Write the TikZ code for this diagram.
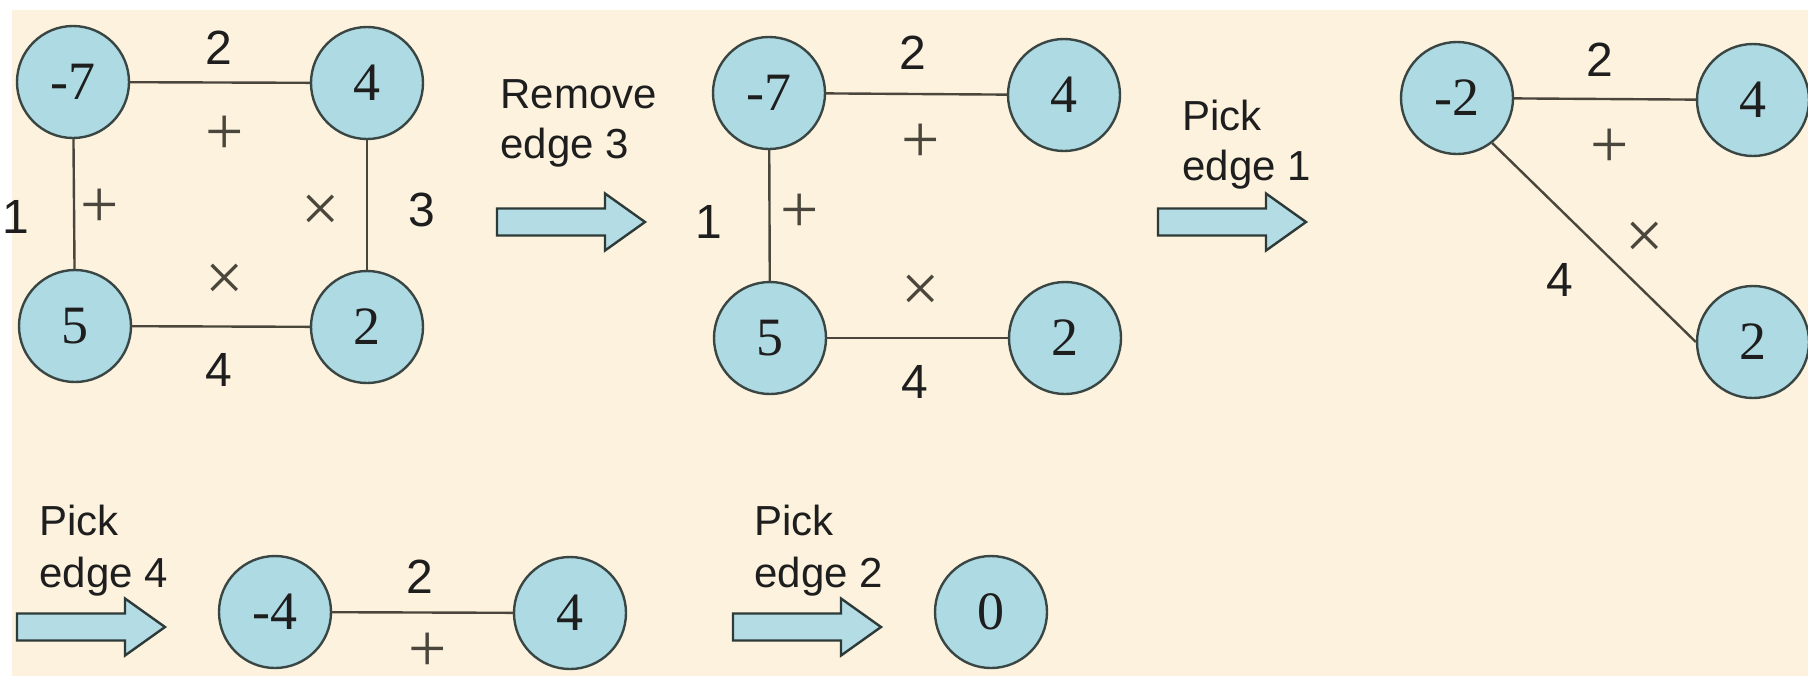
\documentclass[tikz,border=0pt]{standalone}
\usepackage{fontspec}
\setmainfont{Liberation Serif}
\newfontfamily\labfont{Liberation Sans}
\definecolor{bgcream}{HTML}{FCF2DE}
\definecolor{nodefill}{HTML}{AEDBE3}
\definecolor{nodeline}{HTML}{3A4644}
\definecolor{edgecol}{HTML}{4A463C}
\definecolor{txt}{HTML}{1E1E1E}
\definecolor{sgncol}{HTML}{4A463C}
\definecolor{arrowfill}{HTML}{B4DCE5}
\definecolor{arrowline}{HTML}{2E3A38}
\begin{document}
\begin{tikzpicture}[x=0.5pt,y=-0.5pt,
  vert/.style={circle, draw=nodeline, line width=1.2pt, fill=nodefill,
    minimum size=56pt, inner sep=0pt, text=txt, font=\fontsize{27}{30}\selectfont},
  elab/.style={inner sep=0pt, text=txt, font=\labfont\fontsize{24}{28}\selectfont},
  sgn/.style={inner sep=0pt, text=sgncol, font=\fontsize{34}{36}\selectfont},
  atext/.style={anchor=base west, inner sep=0pt, text=txt, font=\labfont\fontsize{21}{25}\selectfont},
  edge/.style={draw=edgecol, line width=1.2pt},
  barrow/.pic={\draw[fill=arrowfill, draw=arrowline, line width=1.2pt, line join=miter]
    (0,-13.5) -- (108,-13.5) -- (108,-28.5) -- (148,0) -- (108,28.5) -- (108,13.5) -- (0,13.5) -- cycle;}
]
% background
\useasboundingbox (0,0) rectangle (1808,682);
\fill[white] (0,0) rectangle (1808,682);
\fill[bgcream] (12,10) rectangle (1808,676);

% ---------- Graph 1 ----------
\node[vert] (a1) at (73,82) {-7};
\node[vert] (b1) at (367,83) {4};
\node[vert] (c1) at (75,326) {5};
\node[vert] (d1) at (367,327) {2};
\draw[edge] (a1) -- (b1);
\draw[edge] (a1) -- (c1);
\draw[edge] (b1) -- (d1);
\draw[edge] (c1) -- (d1);
\node[elab] (l12) at (219,48) {2};
\node[sgn]  (s12) at (225,135) {+};
\node[elab] (l11) at (16,217) {1};
\node[sgn]  (s11) at (100,208) {+};
\node[sgn]  (s13) at (321,213) {×};
\node[elab] (l13) at (422,210) {3};
\node[sgn]  (s14) at (225,282) {×};
\node[elab] (l14) at (219,370) {4};

% arrow 1
\pic at (497,222) {barrow};
\node[atext] (t1a) at (500,108) {Remove};
\node[atext] (t1b) at (500,158) {edge 3};

% ---------- Graph 2 ----------
\node[vert] (a2) at (769,93) {-7};
\node[vert] (b2) at (1064,95) {4};
\node[vert] (c2) at (770,338) {5};
\node[vert] (d2) at (1065,338) {2};
\draw[edge] (a2) -- (b2);
\draw[edge] (a2) -- (c2);
\draw[edge] (c2) -- (d2);
\node[elab] (l22) at (913,53) {2};
\node[sgn]  (s22) at (921,143) {+};
\node[elab] (l21) at (709,222) {1};
\node[sgn]  (s21) at (800,213) {+};
\node[sgn]  (s24) at (921,293) {×};
\node[elab] (l24) at (915,382) {4};

% arrow 2
\pic at (1158,222) {barrow};
\node[atext] (t2a) at (1182,130) {Pick};
\node[atext] (t2b) at (1182,180) {edge 1};

% ---------- Graph 3 ----------
\node[vert] (a3) at (1457,98) {-2};
\node[vert] (b3) at (1753,100) {4};
\node[vert] (c3) at (1753,342) {2};
\draw[edge] (a3) -- (b3);
\draw[edge] (a3.-52) -- (c3.west);
\node[elab] (l32) at (1600,60) {2};
\node[sgn]  (s32) at (1610,148) {+};
\node[sgn]  (s34) at (1645,240) {×};
\node[elab] (l34) at (1560,280) {4};

% ---------- Row 2 ----------
\pic at (17,627) {barrow};
\node[atext] (t3a) at (39,535) {Pick};
\node[atext] (t3b) at (39,587) {edge 4};
\node[vert] (a4) at (275,612) {-4};
\node[vert] (b4) at (570,613) {4};
\draw[edge] (a4) -- (b4);
\node[elab] (l42) at (420,577) {2};
\node[sgn]  (s42) at (428,652) {+};

\pic at (733,627) {barrow};
\node[atext] (t4a) at (754,535) {Pick};
\node[atext] (t4b) at (754,587) {edge 2};
\node[vert] (e4) at (991,612) {0};
\end{tikzpicture}
\end{document}
